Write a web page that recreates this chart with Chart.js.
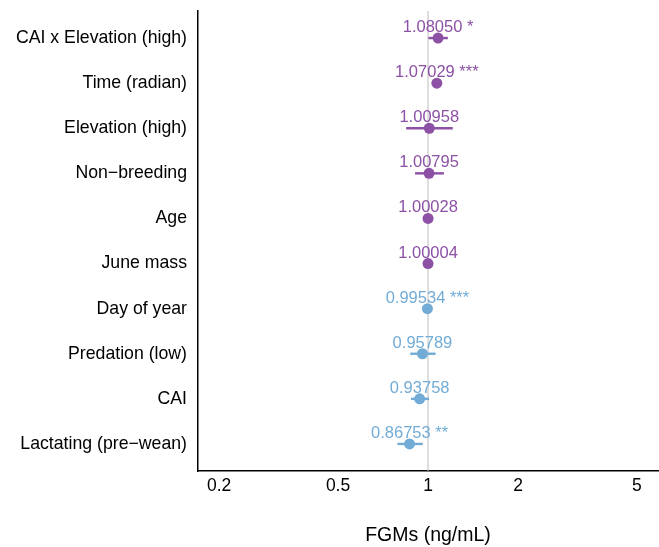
<!DOCTYPE html>
<html>
<head>
<meta charset="utf-8">
<script src="https://cdn.jsdelivr.net/npm/chart.js@4"></script>
<style>
html,body{margin:0;padding:0;background:#fff;}
#wrap{width:659px;height:547px;position:relative;}
</style>
</head>
<body>
<div id="wrap"><canvas id="c" width="659" height="547"></canvas></div>
<script>
const categories = ["CAI x Elevation (high)","Time (radian)","Elevation (high)","Non\u2212breeding","Age","June mass","Day of year","Predation (low)","CAI","Lactating (pre\u2212wean)"];
const estimates = [1.08050,1.07029,1.00958,1.00795,1.00028,1.00004,0.99534,0.95789,0.93758,0.86753];
const lower = [1.003,1.05,0.845,0.905,0.995,0.996,0.985,0.872,0.877,0.790];
const upper = [1.165,1.09,1.21,1.13,1.005,1.004,1.005,1.060,1.008,0.960];
const stars = ["*","***","","","","","***","","","**"];
const xTicks = [0.2,0.5,1,2,5];

const PURPLE = "#8c51a5";
const BLUE = "#72acd6";
const colors = estimates.map(v => v >= 1 ? PURPLE : BLUE);
const FONT = "'Liberation Sans', Arial, Helvetica, sans-serif";

const points = estimates.map((v,i) => ({x:v, y:i+1}));

const forestPlugin = {
  id:'forest',
  beforeDatasetsDraw(chart){
    const {ctx, chartArea, scales:{x,y}} = chart;
    ctx.save();
    const px = x.getPixelForValue(1);
    ctx.strokeStyle = "#bdbdbd";
    ctx.lineWidth = 1;
    ctx.beginPath();
    ctx.moveTo(px, chartArea.top);
    ctx.lineTo(px, chartArea.bottom);
    ctx.stroke();
    ctx.lineWidth = 2.4;
    estimates.forEach((v,i)=>{
      const yy = y.getPixelForValue(i+1);
      ctx.strokeStyle = colors[i];
      ctx.beginPath();
      ctx.moveTo(x.getPixelForValue(lower[i]), yy);
      ctx.lineTo(x.getPixelForValue(upper[i]), yy);
      ctx.stroke();
    });
    ctx.restore();
  },
  afterDatasetsDraw(chart){
    const {ctx, scales:{x,y}} = chart;
    ctx.save();
    ctx.font = "16.5px " + FONT;
    ctx.textAlign = "center";
    ctx.textBaseline = "middle";
    estimates.forEach((v,i)=>{
      const xx = x.getPixelForValue(v);
      const yy = y.getPixelForValue(i+1);
      ctx.fillStyle = colors[i];
      const label = v.toFixed(5) + (stars[i] ? " " + stars[i] : "");
      ctx.fillText(label, xx, yy - 10.5);
    });
    ctx.restore();
  }
};

new Chart(document.getElementById('c'), {
  type:'scatter',
  data:{
    datasets:[{
      data: points,
      pointRadius: 5.5,
      pointHoverRadius: 5.5,
      pointBackgroundColor: colors,
      pointBorderColor: colors,
      pointBorderWidth: 0
    }]
  },
  options:{
    responsive:false,
    animation:false,
    events:[],
    layout:{autoPadding:false, padding:{top:11,right:1,left:0,bottom:0}},
    plugins:{legend:{display:false}, tooltip:{enabled:false}},
    scales:{
      x:{
        type:'logarithmic',
        min:0.17,
        max:5.88,
        grid:{display:false, drawTicks:false},
        border:{display:true, color:'#000', width:1.5},
        afterBuildTicks(scale){ scale.ticks = xTicks.map(v=>({value:v})); },
        ticks:{
          color:'#000',
          font:{size:17.5, family:FONT},
          padding:5,
          autoSkip:false,
          maxRotation:0,
          callback:(v)=> String(v)
        },
        title:{display:true, text:'FGMs (ng/mL)', color:'#000', font:{size:19.5, family:FONT}, padding:{top:25,bottom:0}},
        afterFit(scale){ scale.height = 76; scale.paddingLeft = 0; scale.paddingRight = 0; }
      },
      y:{
        type:'linear',
        min:0.4,
        max:10.6,
        reverse:true,
        grid:{display:false, drawTicks:false},
        border:{display:true, color:'#000', width:1.5},
        afterBuildTicks(scale){ scale.ticks = categories.map((c,i)=>({value:i+1})); },
        ticks:{
          color:'#000',
          font:{size:17.7, family:FONT},
          padding:11,
          autoSkip:false,
          callback:(v)=> categories[Math.round(v)-1] || ''
        },
        afterFit(scale){ scale.width = 198; scale.paddingTop = 0; scale.paddingBottom = 0; }
      }
    }
  },
  plugins:[forestPlugin]
});
</script>
</body>
</html>
